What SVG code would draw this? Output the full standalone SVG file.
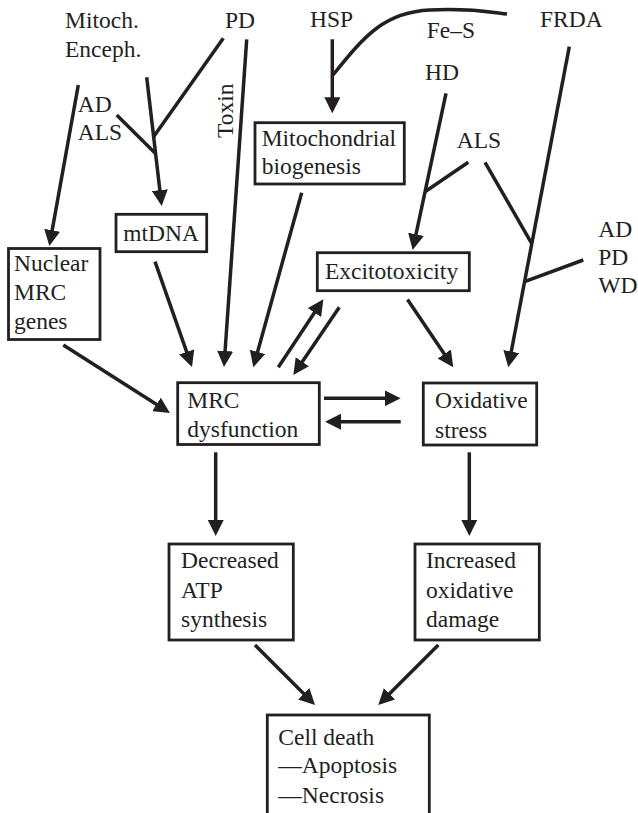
<svg xmlns="http://www.w3.org/2000/svg" width="638" height="813" viewBox="0 0 638 813">
  <style>
    text { font-family: "Liberation Serif", "Times New Roman", serif; font-size: 23.5px; fill: #231f20; }
    .box { fill: #ffffff; stroke: #231f20; stroke-width: 2.8; }
    .ln { fill: none; stroke: #231f20; stroke-width: 3.5; }
    .arr { marker-end: url(#head); }
  </style>
  <defs>
    <marker id="head" markerUnits="userSpaceOnUse" viewBox="0 0 16 16" refX="10" refY="8" markerWidth="16" markerHeight="16" orient="auto">
      <path d="M0,0 L16,8 L0,16 z" fill="#231f20"/>
    </marker>
  </defs>

  <rect width="638" height="813" fill="#ffffff"/>

  <!-- connectors -->
  <g id="connectors">
    <!-- upstream causes -->
    <path class="ln arr" d="M78.3,85 L50.4,240.1"/>
    <path class="ln arr" d="M146.7,77.3 L161,200"/>
    <path class="ln" d="M223.3,38.3 L153.6,136.7"/>
    <path class="ln" d="M116.7,115 L155.5,153.5"/>
    <path class="ln arr" d="M246.7,39.3 L224.4,361"/>
    <path class="ln arr" d="M332.3,39.3 L332.3,107.3"/>
    <path class="ln" d="M333,75 C365,35 385,12 430,10 C470,8 490,12 507,14"/>
    <path class="ln arr" d="M446,93.3 L413.9,244.1"/>
    <path class="ln" d="M468.3,162.3 L425,191.7"/>
    <path class="ln arr" d="M569.3,46.7 L509.4,361.4"/>
    <path class="ln" d="M485,162.3 L531.6,243.3"/>
    <path class="ln" d="M583.3,260 L524.6,281.7"/>
    <!-- into MRC dysfunction -->
    <path class="ln arr" d="M155,261.7 L190,361.3"/>
    <path class="ln arr" d="M63.3,345 L164.9,409.8"/>
    <path class="ln arr" d="M301.7,192.7 L254.9,361.5"/>
    <path class="ln arr" d="M278.3,367.3 L320,304.3"/>
    <path class="ln arr" d="M339.3,307.3 L296.7,370"/>
    <path class="ln arr" d="M407.5,299.5 L449.9,362.3"/>
    <path class="ln arr" d="M324,398.3 L394.7,398.3"/>
    <path class="ln arr" d="M400.7,421.7 L331,421.7"/>
    <!-- downstream -->
    <path class="ln arr" d="M215.7,452.3 L215.7,530"/>
    <path class="ln arr" d="M469.3,452.3 L469.3,530"/>
    <path class="ln arr" d="M255,645 L310.8,700.8"/>
    <path class="ln arr" d="M438.3,645 L382.5,700.8"/>
  </g>

  <!-- free labels -->
  <g id="labels">
    <text x="65" y="27.7">Mitoch.</text>
    <text x="65" y="56.7">Enceph.</text>
    <text x="225" y="27.7">PD</text>
    <text x="310" y="26.7">HSP</text>
    <text x="426.7" y="38.3">Fe–S</text>
    <text x="540" y="26.7">FRDA</text>
    <text x="425" y="80">HD</text>
    <text x="77.7" y="111.7">AD</text>
    <text x="77.7" y="140">ALS</text>
    <text transform="translate(233,138) rotate(-90)">Toxin</text>
    <text x="456.7" y="148.3">ALS</text>
    <text x="598.3" y="236.7">AD</text>
    <text x="598.3" y="265">PD</text>
    <text x="598.3" y="293.3">WD</text>
  </g>

  <g id="nuclear-mrc-genes">
    <rect class="box" x="8.5" y="248.5" width="91.5" height="91"/>
    <text x="14" y="270.7">Nuclear</text>
    <text x="14" y="300">MRC</text>
    <text x="14" y="329">genes</text>
  </g>

  <g id="mtdna">
    <rect class="box" x="116" y="214.3" width="90.7" height="37.4"/>
    <text x="123.3" y="240.7">mtDNA</text>
  </g>

  <g id="mito-biogenesis">
    <rect class="box" x="255" y="122.7" width="149.3" height="61.3"/>
    <text x="261.7" y="145.5">Mitochondrial</text>
    <text x="261.7" y="174">biogenesis</text>
  </g>

  <g id="excitotoxicity">
    <rect class="box" x="317.3" y="252.7" width="152" height="38"/>
    <text x="325" y="279">Excitotoxicity</text>
  </g>

  <g id="mrc-dysfunction">
    <rect class="box" x="177.7" y="382.7" width="141.6" height="61.8"/>
    <text x="187.3" y="408.3">MRC</text>
    <text x="187.3" y="437">dysfunction</text>
  </g>

  <g id="oxidative-stress">
    <rect class="box" x="423.3" y="383" width="113.4" height="62"/>
    <text x="435" y="408.3">Oxidative</text>
    <text x="435" y="438.3">stress</text>
  </g>

  <g id="decreased-atp">
    <rect class="box" x="169" y="544" width="124.3" height="96"/>
    <text x="181" y="568.3">Decreased</text>
    <text x="181" y="597.7">ATP</text>
    <text x="181" y="626.7">synthesis</text>
  </g>

  <g id="increased-damage">
    <rect class="box" x="415" y="544" width="124.3" height="96"/>
    <text x="426" y="568.3">Increased</text>
    <text x="426" y="597.7">oxidative</text>
    <text x="426" y="626.7">damage</text>
  </g>

  <g id="cell-death">
    <rect class="box" x="267.3" y="715" width="162" height="120"/>
    <text x="278.3" y="745">Cell death</text>
    <text x="278.3" y="773.3">—Apoptosis</text>
    <text x="278.3" y="802.7">—Necrosis</text>
  </g>
</svg>
